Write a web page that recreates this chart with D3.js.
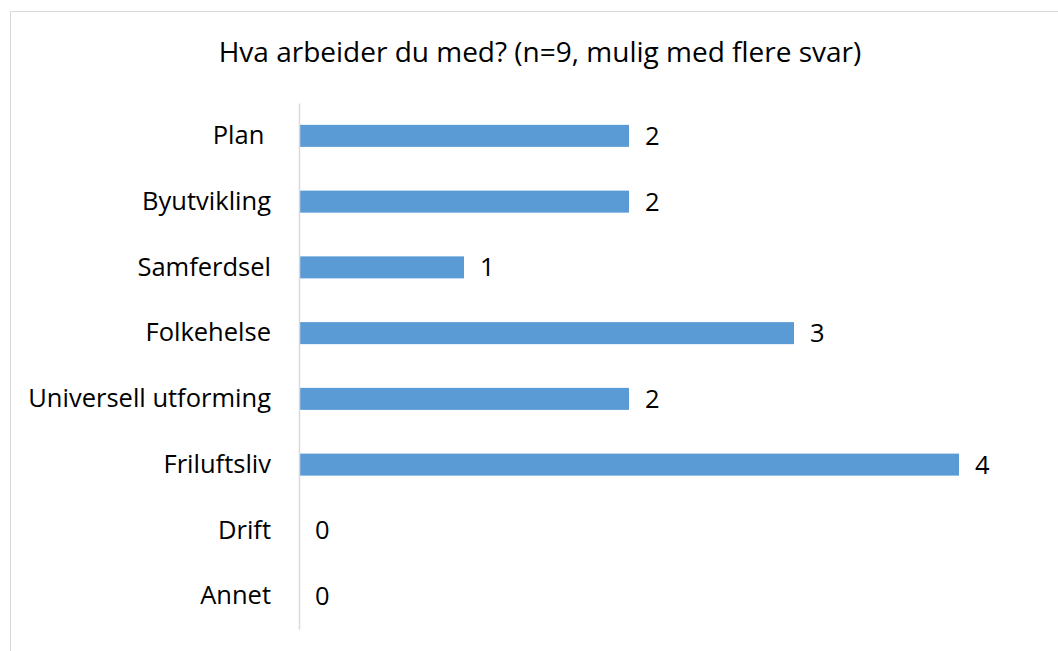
<!DOCTYPE html>
<html><head><meta charset="utf-8">
<script src="https://cdn.jsdelivr.net/npm/d3@7"></script>
<style>body{margin:0;background:#fff}svg{display:block}text{white-space:pre}</style>
</head><body>
<script>
const title = "Hva arbeider du med? (n=9, mulig med flere svar)";
const categories = ["Plan ", "Byutvikling", "Samferdsel", "Folkehelse", "Universell utforming", "Friluftsliv", "Drift", "Annet"];
const values = [2, 2, 1, 3, 2, 4, 0, 0];

const W = 1058, H = 651;
const font = "'Open Sans', sans-serif";
const svg = d3.select("body").append("svg").attr("width", W).attr("height", H);
svg.append("rect").attr("x", 10.5).attr("y", 11.5).attr("width", W + 10).attr("height", H + 10)
  .attr("fill", "#fff").attr("stroke", "#d9d9d9").attr("stroke-width", 1);

const m = {left: 299, top: 103, bottom: 629};
const x = d3.scaleLinear().domain([0, 4]).range([m.left, 959]);
const y = d3.scaleBand().domain(categories).range([m.top, m.bottom]).paddingInner(0.665).paddingOuter(0.3325);

svg.append("text").attr("x", 540).attr("y", 62).attr("text-anchor", "middle")
  .attr("font-family", font).attr("font-weight", 400).attr("font-size", 28).attr("fill", "#000").text(title);

svg.selectAll("rect.bar").data(values).join("rect").attr("class", "bar")
  .attr("x", x(0)).attr("y", (d, i) => y(categories[i]))
  .attr("width", d => x(d) - x(0)).attr("height", y.bandwidth()).attr("fill", "#5B9BD5");

const ax = svg.append("g").attr("transform", `translate(${m.left},0)`)
  .call(d3.axisLeft(y).tickSize(0).tickPadding(28));
ax.select(".domain").attr("stroke", "#d9d9d9").attr("stroke-width", 1.5);
ax.selectAll("text").attr("font-family", font).attr("font-weight", 400).attr("font-size", 25.5).attr("fill", "#000");

svg.selectAll("text.val").data(values).join("text").attr("class", "val")
  .attr("x", d => x(d) + 16).attr("y", (d, i) => y(categories[i]) + y.bandwidth() / 2)
  .attr("dy", "0.35em").attr("font-family", font).attr("font-weight", 400).attr("font-size", 25.5).attr("fill", "#000").text(d => d);
</script>
</body></html>
